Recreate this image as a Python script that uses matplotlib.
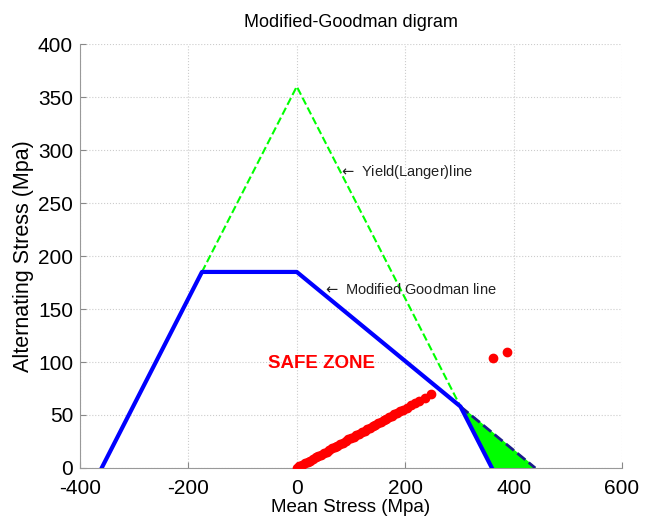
import matplotlib
matplotlib.use('Agg')
import matplotlib.pyplot as plt

plt.rcParams['font.family'] = ['Liberation Sans', 'DejaVu Sans']
plt.rcParams['axes.unicode_minus'] = False

# material data (Mpa)
Sy = 360
Se = 185
Sut = 440
x_int = 302
y_int = 58

# yield (Langer) line
yield_x = [-175, 0, x_int]
yield_y = [185, Sy, y_int]

# modified goodman (safe boundary)
good_x = [-360, -175, 0, x_int, 360]
good_y = [0, 185, Se, y_int, 0]

# goodman extension beyond yield
ext_x = [x_int, Sut]
ext_y = [y_int, 0]

# region between yield line and goodman line
fill_x = [x_int, 360, Sut]
fill_y = [y_int, 0, 0]

# operating points
mean_pts = [0, 5, 10, 15, 20, 25, 30, 35, 40, 45, 50, 55, 60, 65, 70, 75, 80,
            85, 90, 95, 100, 105, 110, 115, 120, 125, 130, 135, 140, 145, 150,
            155, 160, 165, 170, 175, 180, 185, 190, 196, 203, 210, 218, 226,
            236, 248, 362, 388]
alt_pts = [0, 1.5, 3, 4.5, 6, 7, 8.5, 10, 11, 12.5, 14, 15.5, 17, 18.5, 20,
           21, 22.5, 24, 25.5, 27, 28, 29.5, 31, 32.5, 34, 35, 36.5, 38, 39.5,
           41, 42, 43.5, 45, 46.5, 48, 49, 50.5, 52, 53.5, 55, 57, 59, 61, 63,
           66, 70, 104, 109]

fig = plt.figure(figsize=(6.53, 5.19), dpi=100)
ax = fig.add_axes([0.1225, 0.0983, 0.83, 0.8167])

ax.fill(fill_x, fill_y, color='#00ff00', zorder=2)
ax.plot(ext_x, ext_y, '--', color='#1a1a8c', lw=2, zorder=3)
ax.plot(yield_x, yield_y, '--', color='#00ff00', lw=1.5, zorder=3)
ax.plot(good_x, good_y, '-', color='#0000ff', lw=3, zorder=4)
ax.plot(mean_pts, alt_pts, 'o', color='#ff0000', ms=6, zorder=5)

ax.text(78, 279, r'$\leftarrow$ Yield(Langer)line', fontsize=10.5, color='#222222', va='center')
ax.text(48, 168, r'$\leftarrow$ Modified Goodman line', fontsize=10.5, color='#222222', va='center')
ax.text(-54, 99, 'SAFE ZONE', fontsize=13.5, color='#ff0000', fontweight='bold', va='center')

ax.set_xlim(-400, 600)
ax.set_ylim(0, 400)
ax.set_xticks([-400, -200, 0, 200, 400, 600])
ax.set_yticks(range(0, 401, 50))
ax.tick_params(direction='in', labelsize=15, length=4, color='#888888')
ax.tick_params(axis='x', pad=8)
ax.tick_params(axis='y', pad=5)
ax.grid(True, linestyle=':', color='#cccccc', lw=0.8)
ax.set_axisbelow(True)
for s in ['top', 'right']:
    ax.spines[s].set_visible(False)
for s in ['left', 'bottom']:
    ax.spines[s].set_color('#999999')

ax.set_xlabel('Mean Stress (Mpa)', fontsize=13.5, labelpad=1)
ax.set_ylabel('Alternating Stress (Mpa)', fontsize=15.5, labelpad=3)
ax.set_title('Modified-Goodman digram', fontsize=13, pad=12)

fig.savefig('out.png', dpi=100)
